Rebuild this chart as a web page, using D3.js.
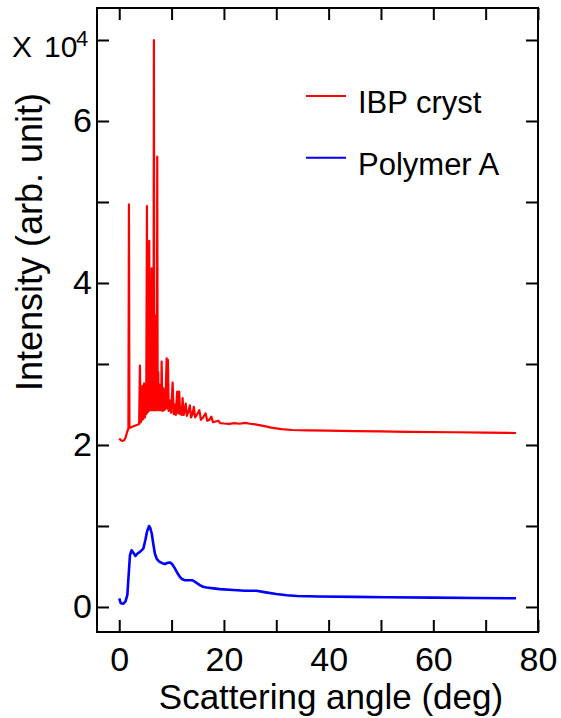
<!DOCTYPE html>
<html>
<head>
<meta charset="utf-8">
<script src="https://cdn.jsdelivr.net/npm/d3@7"></script>
<style>
  body { margin: 0; background: #fff; }
  svg text { font-family: 'Liberation Sans', Arial, sans-serif; fill: #000; }
</style>
</head>
<body>
<svg id="chart" width="561" height="718"></svg>
<script>
// scattering angle (deg) / intensity
const ibpCryst = [
  [0, 20800], [0.3, 20600], [0.6, 20500], [0.9, 20550], [1.2, 20900], [1.5, 21600],
  [1.75, 22000], [1.85, 49700], [1.95, 22100], [2.3, 22200], [2.7, 22300], [3.1, 22400],
  [3.5, 22500], [3.8, 22600], [3.95, 29800], [4.1, 22800], [4.3, 23100], [4.45, 27300],
  [4.58, 23200], [4.75, 27600], [4.9, 23400], [5.05, 27000], [5.15, 23800], [5.29, 49500],
  [5.36, 24000], [5.45, 36000], [5.52, 24100], [5.58, 33000], [5.64, 24200], [5.73, 45200],
  [5.8, 24300], [5.88, 38000], [5.95, 24300], [6.02, 33000], [6.08, 24300], [6.18, 41800],
  [6.26, 24300], [6.34, 35000], [6.42, 24300], [6.48, 31000], [6.54, 24300], [6.62, 70000],
  [6.7, 24300], [6.8, 36000], [6.88, 24300], [6.96, 33000], [7.04, 24300], [7.12, 31000],
  [7.19, 24300], [7.26, 55600], [7.34, 24400], [7.45, 29000], [7.55, 24300], [7.65, 27500],
  [7.75, 24300], [7.85, 25500], [8.0, 24300], [8.1, 30300],
  [8.25, 24200], [8.45, 27000], [8.6, 24300], [8.8, 24500], [9.05, 30700], [9.15, 24500],
  [9.3, 30500], [9.45, 24200], [9.7, 25500], [9.9, 24000], [10.2, 27700], [10.4, 23800],
  [10.6, 25000], [10.8, 23700], [11.07, 26600], [11.25, 23900], [11.45, 26600], [11.65, 23800],
  [11.85, 24500], [11.95, 23700], [12.1, 25800], [12.3, 23700], [12.5, 24300], [12.7, 25100],
  [12.9, 23600], [13.2, 24100], [13.5, 24900], [13.7, 23400], [14.0, 23800], [14.25, 24700],
  [14.5, 23400], [14.8, 23700], [15.3, 24300], [15.6, 23100], [16.0, 23400], [16.5, 23900],
  [16.8, 23000], [17.2, 23100], [17.6, 23500], [17.9, 22800], [18.4, 22900], [18.9, 23000],
  [19.3, 22700], [20, 22650], [21, 22600], [22, 22700], [23, 22620], [24, 22720], [25, 22620],
  [26, 22550], [27, 22420], [28, 22300], [29, 22150], [31, 21950], [33, 21850], [36, 21800],
  [40, 21780], [45, 21720], [50, 21680], [55, 21620], [64, 21570], [70, 21530], [75.8, 21480]
];

const polymerA = [
  [0, 1070], [0.3, 450], [0.8, 400], [1.2, 700], [1.55, 1500], [1.8, 4000], [2.05, 6400],
  [2.36, 7000], [2.7, 6700], [3.1, 6300], [3.5, 6600], [3.95, 6800], [4.6, 7200], [5.0, 8300],
  [5.3, 9300], [5.7, 10000], [5.9, 9800], [6.2, 9100], [6.5, 7800], [6.8, 6600], [7.2, 5900],
  [7.65, 5600], [8.2, 5400], [8.7, 5300], [9.3, 5450], [9.7, 5500], [10.1, 5300], [10.6, 4800],
  [11.1, 4200], [11.6, 3700], [12.0, 3450], [12.5, 3300], [13.2, 3300], [14.0, 3300],
  [14.7, 3000], [15.4, 2700], [16.0, 2500], [16.7, 2400], [18, 2300], [19.2, 2200],
  [21.8, 2100], [24, 2000], [26.2, 2000], [28, 1800], [30, 1600], [32, 1450], [34, 1350],
  [38, 1300], [45, 1250], [51, 1200], [60, 1150], [68, 1100], [75.8, 1070]
];

const xTicks = [0, 10, 20, 30, 40, 50, 60, 70, 80];
const yTicks = [0, 10000, 20000, 30000, 40000, 50000, 60000, 70000];
const legendNames = ['IBP cryst', 'Polymer A'];
const colors = ['#ff0000', '#0000ff'];

const frame = { left: 97, right: 538, top: 8, bottom: 632 };
const tickLen = 12;

let svg = d3.select('#chart');

let x = d3.scaleLinear().domain([-4.25, 80]).range([frame.left, frame.right]);
let y = d3.scaleLinear().domain([-3090, 73950]).range([frame.bottom, frame.top]);

let line = d3.line().x((d) => x(d[0])).y((d) => y(d[1]));

let plot = svg.append('g').attr('id', 'gLines');
[ibpCryst, polymerA].forEach((series, i) => {
  plot.append('path')
    .datum(series)
    .attr('fill', 'none')
    .attr('stroke', colors[i])
    .attr('stroke-width', i === 0 ? 2.2 : 2.6)
    .attr('stroke-linejoin', 'round')
    .attr('d', line);
});

// axes on all four sides, ticks pointing in
let xLabel = (d) => (d % 20 === 0 ? d : '');
let yLabel = (d) => (d % 20000 === 0 ? d / 10000 : '');

let gBottom = svg.append('g')
  .attr('transform', `translate(0,${frame.bottom})`)
  .call(d3.axisBottom(x).tickValues(xTicks).tickFormat(xLabel).tickSize(-tickLen).tickPadding(15));
let gTop = svg.append('g')
  .attr('transform', `translate(0,${frame.top})`)
  .call(d3.axisTop(x).tickValues(xTicks).tickFormat('').tickSize(-tickLen));
let gLeft = svg.append('g')
  .attr('transform', `translate(${frame.left},0)`)
  .call(d3.axisLeft(y).tickValues(yTicks).tickFormat(yLabel).tickSize(-tickLen).tickPadding(5));
let gRight = svg.append('g')
  .attr('transform', `translate(${frame.right},0)`)
  .call(d3.axisRight(y).tickValues(yTicks).tickFormat('').tickSize(-tickLen));

[gBottom, gTop, gLeft, gRight].forEach((g) => {
  g.select('.domain').remove();
  g.selectAll('line').attr('stroke', '#000').attr('stroke-width', 2);
  g.selectAll('text').attr('font-size', 34).attr('font-family', null).attr('fill', '#000');
});

svg.append('rect')
  .attr('x', frame.left)
  .attr('y', frame.top)
  .attr('width', frame.right - frame.left)
  .attr('height', frame.bottom - frame.top)
  .attr('fill', 'none')
  .attr('stroke', '#000')
  .attr('stroke-width', 2);

// titles
svg.append('text')
  .attr('x', 331)
  .attr('y', 709)
  .attr('text-anchor', 'middle')
  .attr('font-size', 35)
  .text('Scattering angle (deg)');

svg.append('text')
  .attr('transform', 'translate(42,242) rotate(-90)')
  .attr('text-anchor', 'middle')
  .attr('font-size', 36)
  .text('Intensity (arb. unit)');

svg.append('text').attr('x', 12).attr('y', 57).attr('font-size', 30).text('X');
svg.append('text').attr('x', 44).attr('y', 57).attr('font-size', 30).text('10');
svg.append('text').attr('x', 76).attr('y', 46).attr('font-size', 22).text('4');

// legend
let legend = svg.append('g').attr('id', 'gLegend');
legendNames.forEach((name, i) => {
  let ly = 96 + i * 61.7;
  legend.append('line')
    .attr('x1', 306).attr('x2', 346)
    .attr('y1', ly).attr('y2', ly)
    .attr('stroke', colors[i])
    .attr('stroke-width', 2);
  legend.append('text')
    .attr('x', 358)
    .attr('y', ly + 17)
    .attr('font-size', 31)
    .text(name);
});
</script>
</body>
</html>
